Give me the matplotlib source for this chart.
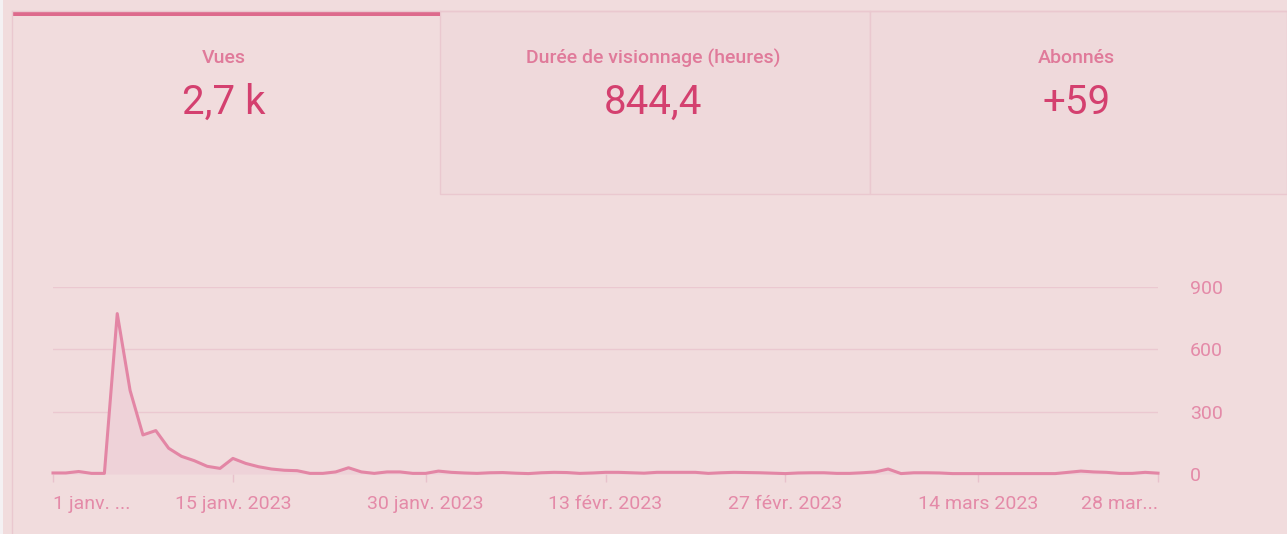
import pandas as pd
import matplotlib.pyplot as plt
import matplotlib.dates as mdates
from matplotlib.patches import Rectangle

plt.rcParams['font.family'] = ['Roboto', 'DejaVu Sans']

# Cartes du haut
card_titles = ['Vues', 'Durée de visionnage (heures)', 'Abonnés']
card_values = ['2,7 k', '844,4', '+59']

# Vues quotidiennes, 1 janv. -> 28 mars 2023
views_jan = [5, 5, 12, 3, 3, 772, 402, 188, 209, 124, 85, 64, 37, 27, 75, 51,
             35, 24, 18, 16, 3, 3, 10, 30, 10, 3, 10, 10, 3, 3, 14]
views_feb = [8, 5, 3, 6, 7, 4, 2, 6, 8, 7, 3, 5, 8, 8, 6, 4, 8, 8, 8, 8,
             3, 6, 8, 7, 6, 4, 2, 5]
views_mar = [6, 6, 3, 3, 6, 10, 24, 2, 6, 6, 5, 2, 2, 2, 2, 2, 2, 2, 2, 2,
             8, 14, 10, 8, 3, 3, 8, 4]
views = views_jan + views_feb + views_mar
dates = pd.date_range('2023-01-01', periods=len(views), freq='D')

tick_dates = pd.to_datetime(['2023-01-01', '2023-01-15', '2023-01-30', '2023-02-13',
                             '2023-02-27', '2023-03-14', '2023-03-28'])
tick_labels = ['1 janv. ...', '15 janv. 2023', '30 janv. 2023', '13 févr. 2023',
               '27 févr. 2023', '14 mars 2023', '28 mar...']
y_ticks = [0, 300, 600, 900]

BG = '#f1dcdd'
BORDER = '#eac8cf'
ACCENT = '#dd6a8c'
TITLE_C = '#e07a9a'
VALUE_C = '#d4406f'
TICK_C = '#e48aa8'
LINE_C = '#e386a5'

W, H = 1287, 534
fig = plt.figure(figsize=(W / 100, H / 100), dpi=100, facecolor=BG)

# calque de fond en pixels
bg = fig.add_axes([0, 0, 1, 1], zorder=0)
bg.set_xlim(0, W)
bg.set_ylim(H, 0)
bg.axis('off')
bg.add_patch(Rectangle((0, 0), 3, H, color='#f4f1f3', lw=0))
bg.plot([12, 12], [11, H], color=BORDER, lw=1)
card_x = [12, 440, 870, W]
for i in range(3):
    x0, x1 = card_x[i], card_x[i + 1]
    bg.plot([x0, x1], [11, 11], color=BORDER, lw=1)
    if i > 0:
        bg.add_patch(Rectangle((x0, 11), x1 - x0, 183, facecolor='#efd9db',
                               edgecolor=BORDER, lw=1))
    cx = (x0 + x1) / 2 - 2
    bg.text(cx, 58, card_titles[i], ha='center', va='center', fontsize=14,
            color=TITLE_C, fontweight='medium')
    bg.text(cx, 102, card_values[i], ha='center', va='center', fontsize=29,
            color=VALUE_C)
bg.add_patch(Rectangle((12, 11), 428, 5, color=ACCENT, lw=0))

# graphique
ax = fig.add_axes([53 / W, (H - 474) / H, (1158 - 53) / W, (474 - 287) / H], zorder=1)
ax.set_facecolor('none')
ax.fill_between(dates, views, 0, color='#eed2d8', lw=0)
ax.plot(dates, views, color=LINE_C, lw=2.2, clip_on=False, solid_joinstyle='round')
ax.set_xlim(dates[0], dates[-1])
ax.set_ylim(0, 900)

for s in ax.spines.values():
    s.set_visible(False)
ax.yaxis.tick_right()
ax.set_yticks(y_ticks)
ax.set_yticklabels([str(v) for v in y_ticks])
ax.tick_params(axis='y', length=0, pad=23, labelsize=14, labelcolor=TICK_C)
for lab in ax.get_yticklabels():
    lab.set_horizontalalignment('left')
ax.grid(axis='y', color='#ebc8d0', lw=1)
ax.set_axisbelow(True)

ax.set_xticks(tick_dates)
ax.set_xticklabels(tick_labels)
ax.tick_params(axis='x', length=6, width=1, color='#e8c2cc', pad=9,
               labelsize=14, labelcolor=TICK_C)
labs = ax.get_xticklabels()
labs[0].set_horizontalalignment('left')
labs[-1].set_horizontalalignment('right')

fig.savefig('out.png', dpi=100, facecolor=BG)
